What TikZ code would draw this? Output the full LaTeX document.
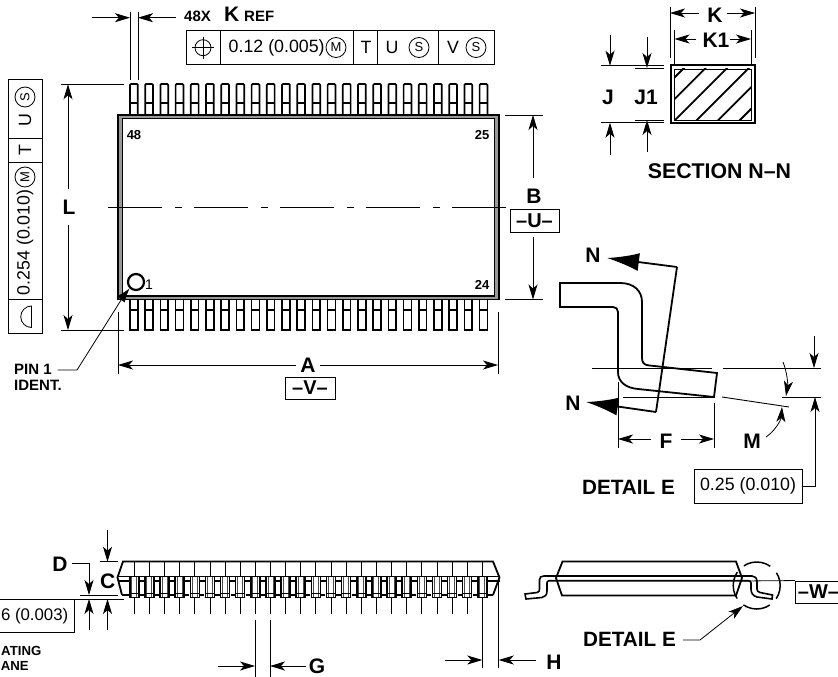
\documentclass[tikz,border=0pt]{standalone}
\usepackage{fontspec}
\setmainfont{Liberation Sans}
\usetikzlibrary{arrows.meta}
\tikzset{
  thinl/.style={line width=0.9pt,black},
  onearrow/.style={line width=0.8pt,-{Stealth[length=15pt,width=9pt,inset=4pt]}},
  bighead/.style={line width=1.8pt,-{Latex[length=32pt,width=18pt]}},
  pinline/.style={line width=1.7pt},
  lab/.style={font=\bfseries\fontsize{21}{21}\selectfont,inner sep=0pt},
  datum/.style={draw,line width=0.9pt,inner sep=0pt,font=\bfseries\fontsize{20}{20}\selectfont},
  titlelab/.style={font=\bfseries\fontsize{20.7}{20.7}\selectfont,inner sep=0pt},
  slab/.style={font=\bfseries\fontsize{13}{14}\selectfont,inner sep=0pt},
  noteb/.style={font=\bfseries\fontsize{15}{15.5}\selectfont,inner sep=0pt},
  cutb/.style={font=\bfseries\fontsize{13.2}{13.2}\selectfont,inner sep=0pt},
  flab/.style={font=\fontsize{17.8}{17.8}\selectfont,inner sep=0pt},
  cflab/.style={circle,draw,line width=0.8pt,inner sep=0pt,minimum size=20pt,font=\fontsize{13}{13}\selectfont},
}
\begin{document}
\begin{tikzpicture}[x=1pt,y=-1pt]
\useasboundingbox (0,0) rectangle (838,677);
\fill[white] (0,0) rectangle (838,677);

% === plan view: pins
\foreach \i in {0,...,23}{
  \pgfmathsetmacro{\xa}{130+15.2*\i}
  \pgfmathsetmacro{\xb}{\xa+7.8}
  \draw[pinline,rounded corners=1pt] (\xa,115) -- (\xa,84) -- (\xb,84) -- (\xb,115);
  \draw[pinline] (\xa,103) -- (\xb,103);
  \draw[pinline] (\xa,299) -- (\xa,330) -- (\xb,330) -- (\xb,299);
  \draw[pinline] (\xa,310) -- (\xb,310);
}
% body
\draw[line width=2.2pt,fill=white] (118.5,115.5) rectangle (498.5,299);
\draw[line width=2.6pt,black!40] (120.5,117) rectangle (496.5,297.5);
\draw[line width=1.6pt] (122.5,118.5) rectangle (494.5,296);
\node[slab] (n48) at (134,135) {48};
\node[slab] (n25) at (482,135) {25};
\node[slab] (n24) at (482,285) {24};
\node[font=\fontsize{14}{14}\selectfont,inner sep=0pt] (n1) at (149,285) {1};
\node[circle,draw,line width=2.2pt,minimum size=16pt,inner sep=0pt] (pin1c) at (136,282) {};
% centre line
\draw[line width=0.8pt,dash pattern=on 54pt off 13pt on 7pt off 12pt] (108,207) -- (507,207);

% PIN 1 leader
\node[noteb,align=left,anchor=north west] (pinlab) at (14,364) {PIN 1\\IDENT.};
\coordinate (pinelbow) at (77,370);
\coordinate (pinfree) at (57.5,370);
\coordinate (pinknee) at (123,297);
\draw[line width=0.8pt] (pinfree) -- (pinelbow) -- (pinknee);
\draw[line width=0.8pt,-{Latex[length=14pt,width=10pt]}] (pinknee) ++(-2,2) -- (pin1c.225);

% L
\node[lab] (L) at (69,207.5) {L};
\coordinate (Lt) at (68,84.3);
\coordinate (Lb) at (68,330);
\draw[thinl] (61,84.3) -- (124,84.3);
\draw[thinl] (61,330) -- (124,330);
\draw[onearrow] (68,189) -- (Lt);
\draw[onearrow] (68,225) -- (Lb);

% A
\draw[thinl] (118,312) -- (118,374);
\draw[thinl] (498,312) -- (498,374);
\node[lab] (A) at (308,365) {A};
\draw[onearrow] (296,365) -- (118,365);
\draw[onearrow] (320,365) -- (498,365);
\node[datum,minimum width=50pt,minimum height=22pt] (V) at (310,388) {–V–};

% B
\draw[thinl] (505,115) -- (543,115);
\draw[thinl] (505,299.5) -- (543,299.5);
\node[lab] (B) at (534,196) {B};
\node[datum,minimum width=49pt,minimum height=23pt] (U) at (534.5,220.5) {–U–};
\draw[onearrow] (533,178) -- (533,115);
\draw[onearrow] (533,237) -- (533,299.5);

% 48X K REF
\coordinate (ka) at (130,17.7);
\coordinate (kb) at (138,17.7);
\draw[thinl] (130,12) -- (130,80);
\draw[thinl] (138,12) -- (138,80);
\draw[onearrow] (92,17.7) -- (ka);
\draw[onearrow] (176,17.7) -- (kb);
\node[noteb,anchor=base west] (x48) at (184,22) {48X};
\node[lab,anchor=base west] (kl) at (224,22) {K};
\node[noteb,anchor=base west] (kref) at (244,22) {REF};

% top FCF
\draw[thinl] (186,30.5) rectangle (494,64);
\foreach \x in {220,353,377,438}{\draw[thinl] (\x,30.5) -- (\x,64);}
\draw[line width=0.8pt] (203,47.7) circle (8);
\draw[line width=0.8pt] (192,47.7) -- (214,47.7);
\draw[line width=0.8pt] (203,36.7) -- (203,59);
\node[flab,anchor=west] (t1) at (228.5,47.5) {0.12 (0.005)};
\node[cflab] (tm) at (336,47.5) {M};
\node[flab] (tt) at (366,47.5) {T};
\node[flab] (tu) at (392,47.5) {U};
\node[cflab] (ts) at (419,47.5) {S};
\node[flab] (tv) at (453,47.5) {V};
\node[cflab] (ts2) at (476,47.5) {S};

% left FCF
\draw[thinl] (8.5,79) rectangle (42,333);
\foreach \y in {138,162,299}{\draw[thinl] (8.5,\y) -- (42,\y);}
\node[cflab,rotate=90] (ls) at (25,97) {S};
\node[flab,rotate=90] (lu) at (25,120) {U};
\node[flab,rotate=90] (lt) at (25,150) {T};
\node[cflab,rotate=90] (lm) at (25,177) {M};
\node[flab,rotate=90,anchor=west] (lv) at (25,295.5) {0.254 (0.010)};
\draw[line width=0.8pt] (31.5,306) arc[start angle=270,end angle=90,radius=10.75] -- cycle;

% section N-N
\node[lab] (Kb) at (715,15) {K};
\node[lab] (K1) at (716,40) {K1};
\draw[thinl] (670,7) -- (670,58);
\draw[thinl] (755,7) -- (755,58);
\draw[thinl] (674.5,30) -- (674.5,64);
\draw[thinl] (751,30) -- (751,64);
\draw[onearrow] (699,13) -- (670,13);
\draw[onearrow] (727,13) -- (755,13);
\draw[onearrow] (696,39) -- (674.5,39);
\draw[onearrow] (730,39) -- (751,39);
\begin{scope}
\clip (674,69) rectangle (751,120);
\foreach \c in {752,773.6,...,870}{\draw[line width=1.8pt] (\c-123,123) -- (\c-65,65);}
\end{scope}
\draw[line width=2pt] (670.5,65.5) rectangle (755,123);
\draw[line width=0.9pt] (674.5,69) rectangle (751,120);
\draw[thinl] (601,65.7) -- (664,65.7);
\draw[thinl] (635,68) -- (664,68);
\draw[thinl] (601,122.7) -- (664,122.7);
\draw[thinl] (635,120) -- (664,120);
\coordinate (ja) at (610,65.7);
\coordinate (jb) at (610,122.7);
\coordinate (j1a) at (647,68);
\coordinate (j1b) at (647,120);
\draw[onearrow] (610,35) -- (ja);
\draw[onearrow] (610,155) -- (jb);
\draw[onearrow] (647,37) -- (j1a);
\draw[onearrow] (647,152) -- (j1b);
\node[lab] (J) at (608,97) {J};
\node[lab] (J1) at (646,97) {J1};
\node[titlelab,font=\bfseries\fontsize{21.3}{21.3}\selectfont] (secn) at (719.5,171) {SECTION N–N};

% detail E
\node[lab] (Nt) at (593,255) {N};
\node[lab] (Nb) at (573,403) {N};
\coordinate (sa) at (677,267);
\coordinate (sb) at (656,412);
\coordinate (tipt) at (607,258);
\coordinate (tipb) at (586,402);
\draw[line width=1.8pt] (sa) -- (sb);
\draw[bighead] (sa) -- (tipt);
\draw[bighead] (sb) -- (tipb);
\draw[line width=1.8pt] (560,283) -- (620,283)
   .. controls (634,283) and (642,291) .. (642,302) -- (642,358)
   .. controls (642,362) and (644,365) .. (648,365.3) -- (717,373) -- (714,397) -- (638,389)
   .. controls (626,388) and (618,382) .. (618,372) -- (618,312)
   .. controls (618,309) and (616,307) .. (613,307) -- (560,307) -- cycle;
\draw[thinl] (592,368) -- (712,368);
\draw[thinl] (723,368) -- (821,368);
\draw[thinl] (623,397) -- (715,397);
\draw[thinl] (782,397) -- (821,397);
\draw[thinl] (722,397) -- (789,407);
\draw[line width=0.9pt] (618,382) -- (618,448);
\draw[line width=0.9pt] (714,403) -- (714,448);
\node[lab] (F) at (666,441) {F};
\draw[onearrow] (651,439) -- (618,439);
\draw[onearrow] (681,439) -- (714,439);
\node[lab] (M) at (752,441) {M};
\draw[onearrow] (766,437) .. controls (775,431) and (781,420) .. (782,407);
\draw[onearrow] (783,362) .. controls (787,372) and (788,384) .. (786,396);
\draw[onearrow] (814,336) -- (814,368);
\node[titlelab] (dete) at (628.5,487) {DETAIL E};
\node[draw,line width=0.9pt,minimum width=108pt,minimum height=34pt,inner sep=0pt,font=\fontsize{17.8}{17.8}\selectfont] (b25) at (748,486) {0.25 (0.010)};
\coordinate (b25c) at (815,486);
\draw[onearrow] (b25.east) -- (b25c) -- (815,397);

% bottom left side view
\foreach \i in {0,...,23}{
  \pgfmathsetmacro{\xc}{134.3+15.13*\i}
  \draw[line width=0.8pt] (\xc,561) -- (\xc,577);
  \draw[line width=1.5pt] (\xc-4.5,577) -- (\xc-4.5,597.5) -- (\xc+4.5,597.5) -- (\xc+4.5,577);
  \draw[line width=0.9pt,black!70] (\xc-2.5,577) -- (\xc-2.5,597);
  \draw[line width=0.9pt,black!70] (\xc+2.5,577) -- (\xc+2.5,597);
  \draw[line width=0.8pt] (\xc-4.5,593) -- (\xc+4.5,593);
}
\foreach \i in {0,...,22}{
  \pgfmathsetmacro{\xc}{134.3+15.13*\i}
  \draw[line width=0.8pt] (\xc,597.5) -- (\xc,614);
}
\draw[line width=1.8pt] (122,595) -- (117.5,577.5) -- (123,561.5) -- (493,561.5) -- (499.5,577.5) -- (493,595);
\draw[line width=1.8pt] (117.5,576.5) -- (499.5,576.5);
\foreach \i in {0,...,22}{
  \pgfmathsetmacro{\xd}{134.3+15.13*\i+4.5}
  \draw[line width=1.6pt] (\xd,581) -- (\xd+6.1,581) (\xd+1,595) -- (\xd+5.1,595);
}
\draw[line width=1.6pt] (117.5,581) -- (129.8,581) (122,595) -- (129.8,595);
\draw[line width=1.6pt] (486.7,595) -- (493,595) (486.7,581) -- (499.5,581);

% D, C
\node[lab] (D) at (60,564) {D};
\node[lab] (C) at (107.7,581) {C};
\coordinate (dtip) at (89,595);
\draw[thinl] (72,563) -- (89,563) -- (89,575);
\draw[onearrow] (89,570) -- (dtip);
\draw[thinl] (100,561.7) -- (118,561.7);
\draw[thinl] (80,595) -- (118,595);
\draw[thinl] (75,599) -- (124,599);
\draw[onearrow] (107.5,530) -- (107.5,561.7);
\draw[onearrow] (107.5,630) -- (107.5,599);
\draw[onearrow] (89,630) -- (89,599);
\draw[thinl] (0,599) -- (74,599) -- (74,632.7) -- (0,632.7);
\node[flab,font=\fontsize{16.8}{16.8}\selectfont,anchor=east] (t76) at (68.5,616) {6 (0.003)};
\node[cutb,anchor=east] (seat) at (41.5,650.5) {ATING};
\node[cutb,anchor=east] (plane) at (29,666) {ANE};

% G, H
\draw[line width=0.9pt] (255,620) -- (255,677);
\draw[line width=0.9pt] (270,620) -- (270,677);
\node[lab] (G) at (317,666) {G};
\draw[onearrow] (218,666) -- (255,666);
\draw[onearrow] (306,666) -- (270,666);
\draw[line width=0.9pt] (482.3,597) -- (482.3,668);
\draw[line width=0.9pt] (498.7,578) -- (498.7,668);
\draw[onearrow] (445,660) -- (482.3,660);
\draw[onearrow] (536,660) -- (498.7,660);
\node[lab] (H) at (554,662.5) {H};

% right side view
\draw[line width=1.8pt] (562,595.5) -- (556,578) -- (562.5,561.5) -- (736,561.5) -- (742,578) -- (736,595.5) -- cycle;
\draw[line width=1.6pt] (525,594) -- (537,592.5) .. controls (539,592) and (539.5,591) .. (539.5,589) -- (539.5,580) .. controls (539.5,577) and (541,576) .. (544,576) -- (752,576) .. controls (755,576) and (757,578) .. (757,582) -- (757,589) .. controls (757,591) and (758,592) .. (760,592.5) -- (772.5,595) -- (772,599) -- (757,597) .. controls (753,596) and (751,593) .. (751,589) -- (751,583) .. controls (751,581.5) and (750,580.7) .. (748,580.7) -- (549,580.7) .. controls (547.5,580.7) and (547,582) .. (547,583) -- (547,591) .. controls (547,595) and (545,597) .. (542,597.5) -- (526,599) -- cycle;
\draw[line width=1.5pt,dash pattern=on 28pt off 9pt,dash phase=14pt] (756.7,585.5) circle (23.5);
\node[datum,minimum width=46pt,minimum height=22pt,anchor=west,text width=46pt,align=center] (W) at (795,592) {–W–};
\draw[line width=0.8pt] (742,581) -- (W.north west);
\node[titlelab] (detb) at (629.5,639) {DETAIL E};
\coordinate (delb) at (700,640);
\draw[line width=0.8pt,-{Stealth[length=15pt,width=9pt,inset=4pt]}] (683,640) -- (delb) -- (743,606);
\end{tikzpicture}
\end{document}
